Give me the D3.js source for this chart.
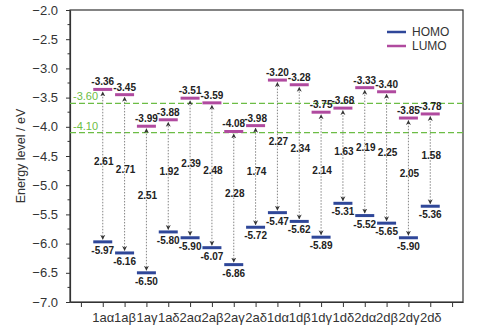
<!DOCTYPE html>
<html>
<head>
<meta charset="utf-8">
<script src="https://cdn.jsdelivr.net/npm/d3@7"></script>
<style>
  body { margin: 0; background: #fff; }
  text { font-family: "Liberation Sans", Arial, sans-serif; }
</style>
</head>
<body>
<div id="chart"></div>
<script>
const categories = ["1aα", "1aβ", "1aγ", "1aδ", "2aα", "2aβ", "2aγ", "2aδ",
                    "1dα", "1dβ", "1dγ", "1dδ", "2dα", "2dβ", "2dγ", "2dδ"];
const lumo = [-3.36, -3.45, -3.99, -3.88, -3.51, -3.59, -4.08, -3.98,
              -3.20, -3.28, -3.75, -3.68, -3.33, -3.40, -3.85, -3.78];
const homo = [-5.97, -6.16, -6.50, -5.80, -5.90, -6.07, -6.36, -5.72,
              -5.47, -5.62, -5.89, -5.31, -5.52, -5.65, -5.90, -5.36];
// labels as printed in the figure
const homoLabels = ["-5.97", "-6.16", "-6.50", "-5.80", "-5.90", "-6.07", "-6.86", "-5.72",
                    "-5.47", "-5.62", "-5.89", "-5.31", "-5.52", "-5.65", "-5.90", "-5.36"];
const gaps = ["2.61", "2.71", "2.51", "1.92", "2.39", "2.48", "2.28", "1.74",
              "2.27", "2.34", "2.14", "1.63", "2.19", "2.25", "2.05", "1.58"];
const refLines = [-3.60, -4.10];
const yTicks = [-2.0, -2.5, -3.0, -3.5, -4.0, -4.5, -5.0, -5.5, -6.0, -6.5, -7.0];

const W = 481, H = 335;
const margin = { top: 10, right: 18, bottom: 33, left: 70 };
const width = W - margin.left - margin.right;
const height = H - margin.top - margin.bottom;

const homoColor = "#2f4799";
const lumoColor = "#b04a9f";
const green = "#6cbd45";

const svg = d3.select("#chart").append("svg")
  .attr("width", W)
  .attr("height", H);

const defs = svg.append("defs");
defs.append("marker")
  .attr("id", "arrow")
  .attr("viewBox", "0 0 10 10")
  .attr("refX", 9).attr("refY", 5)
  .attr("markerWidth", 5).attr("markerHeight", 6)
  .attr("markerUnits", "userSpaceOnUse")
  .attr("orient", "auto-start-reverse")
  .append("path")
  .attr("d", "M0,0 L10,5 L0,10 L3,5 Z")
  .attr("fill", "#333");

const g = svg.append("g")
  .attr("transform", `translate(${margin.left},${margin.top})`);

const x = d3.scaleLinear()
  .domain([-0.5, categories.length + 1.5])
  .range([0, width]);

const y = d3.scaleLinear()
  .domain([-7, -2])
  .range([height, 0]);

// frame
g.append("rect")
  .attr("width", width)
  .attr("height", height)
  .attr("fill", "none")
  .attr("stroke", "#333")
  .attr("stroke-width", 1.2);

// y axis
const yAxis = g.append("g")
  .call(d3.axisLeft(y).tickValues(yTicks).tickFormat(d3.format(".1f")).tickSize(4).tickSizeOuter(0));
yAxis.select(".domain").attr("stroke", "#333").attr("stroke-width", 1.2);
yAxis.selectAll("text").style("font-size", "13px").attr("fill", "#333").attr("dx", "-5");
yAxis.selectAll("line").attr("stroke", "#333");

const minor = d3.range(-6.75, -2, 0.5);
g.append("g").selectAll("line")
  .data(minor)
  .join("line")
  .attr("x1", -2.5).attr("x2", 0)
  .attr("y1", d => y(d)).attr("y2", d => y(d))
  .attr("stroke", "#333");

// x axis
const xAxis = g.append("g")
  .attr("transform", `translate(0,${height})`)
  .call(d3.axisBottom(x)
    .tickValues(d3.range(0, categories.length + 2))
    .tickFormat(i => categories[i - 1] || "")
    .tickSize(5).tickSizeOuter(0));
xAxis.select(".domain").attr("stroke", "#333").attr("stroke-width", 1.2);
xAxis.selectAll("line").attr("stroke", "#333");
xAxis.selectAll("text").style("font-size", "13px").attr("fill", "#333").attr("dy", "0.95em");

// reference lines
refLines.forEach(v => {
  g.append("line")
    .attr("x1", 0).attr("x2", width)
    .attr("y1", y(v)).attr("y2", y(v))
    .attr("stroke", green)
    .attr("stroke-width", 1.2)
    .attr("stroke-dasharray", "6,3");
  g.append("text")
    .attr("x", 3)
    .attr("y", y(v) - 3)
    .attr("fill", green)
    .style("font-size", "11px")
    .text(v.toFixed(2));
});

const rows = categories.map((c, i) => ({ c, i, lumo: lumo[i], homo: homo[i], hl: homoLabels[i], gap: gaps[i] }));
const barW = 19;

// arrows
g.append("g").selectAll("line")
  .data(rows)
  .join("line")
  .attr("x1", d => x(d.i + 1)).attr("x2", d => x(d.i + 1))
  .attr("y1", d => y(d.homo) - 2.5)
  .attr("y2", d => y(d.lumo) + 2.5)
  .attr("stroke", "#777")
  .attr("stroke-width", 0.9)
  .attr("stroke-dasharray", "1.5,1.5")
  .attr("marker-start", "url(#arrow)")
  .attr("marker-end", "url(#arrow)");

// gap labels
g.append("g").selectAll("text")
  .data(rows)
  .join("text")
  .attr("x", d => x(d.i + 1) + 1)
  .attr("y", d => (y(d.homo) + y(d.lumo)) / 2 - 1)
  .attr("text-anchor", "middle")
  .attr("fill", "#222")
  .style("font-size", "10px")
  .style("font-weight", "bold")
  .text(d => d.gap);

// levels
g.append("g").selectAll("line")
  .data(rows)
  .join("line")
  .attr("x1", d => x(d.i + 1) - barW / 2).attr("x2", d => x(d.i + 1) + barW / 2)
  .attr("y1", d => y(d.lumo)).attr("y2", d => y(d.lumo))
  .attr("stroke", lumoColor)
  .attr("stroke-width", 3);

g.append("g").selectAll("line")
  .data(rows)
  .join("line")
  .attr("x1", d => x(d.i + 1) - barW / 2).attr("x2", d => x(d.i + 1) + barW / 2)
  .attr("y1", d => y(d.homo)).attr("y2", d => y(d.homo))
  .attr("stroke", homoColor)
  .attr("stroke-width", 3);

// value labels
g.append("g").selectAll("text")
  .data(rows)
  .join("text")
  .attr("x", d => x(d.i + 1))
  .attr("y", d => y(d.lumo) - 4)
  .attr("text-anchor", "middle")
  .attr("fill", "#222")
  .style("font-size", "10px")
  .style("font-weight", "bold")
  .text(d => d.lumo.toFixed(2));

g.append("g").selectAll("text")
  .data(rows)
  .join("text")
  .attr("x", d => x(d.i + 1))
  .attr("y", d => y(d.homo) + 12)
  .attr("text-anchor", "middle")
  .attr("fill", "#222")
  .style("font-size", "10px")
  .style("font-weight", "bold")
  .text(d => d.hl);

// y title
svg.append("text")
  .attr("transform", `translate(25,${margin.top + height / 2}) rotate(-90)`)
  .attr("text-anchor", "middle")
  .attr("fill", "#333")
  .style("font-size", "12.5px")
  .text("Energy level / eV");

// legend
const legend = g.append("g").attr("transform", `translate(${width - 76},22)`);
[["HOMO", homoColor], ["LUMO", lumoColor]].forEach(([name, col], k) => {
  legend.append("line")
    .attr("x1", 0).attr("x2", 19)
    .attr("y1", k * 14).attr("y2", k * 14)
    .attr("stroke", col).attr("stroke-width", 2.5);
  legend.append("text")
    .attr("x", 25).attr("y", k * 14 + 4)
    .attr("fill", "#333")
    .style("font-size", "12px")
    .text(name);
});
</script>
</body>
</html>
